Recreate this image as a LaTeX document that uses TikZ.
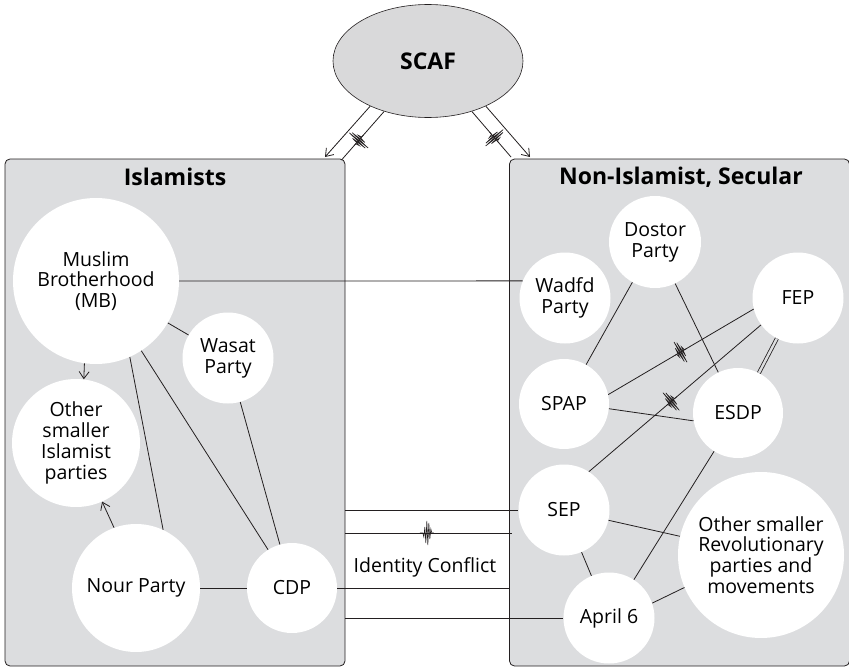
\documentclass[tikz,border=0pt]{standalone}
\usepackage{fontspec}
\setmainfont{Open Sans}
\usetikzlibrary{decorations.markings,arrows.meta,shapes.geometric}
\definecolor{boxgray}{HTML}{DCDDDF}
\definecolor{scafgray}{HTML}{D9D9DA}
\definecolor{ink}{HTML}{231F20}
\tikzset{
  party/.style={circle, fill=white, inner sep=0pt, align=center,
    font=\fontsize{19.5}{20.8}\selectfont},
  group/.style={draw=ink, fill=boxgray, rounded corners=5pt, line width=0.8pt,
    inner sep=0pt, minimum width=340pt, minimum height=507pt},
  grouptitle/.style={font=\fontsize{23}{26}\selectfont\bfseries},
  link/.style={draw=ink, line width=0.8pt},
  arr/.style={link, -{Straight Barb[length=7pt,width=10pt,line width=0.8pt]}},
  conflict/.style={link, postaction={decorate}, decoration={markings,
    mark=at position #1 with {\draw[ink, line width=0.6pt, line join=miter]
      (-7pt,0) -- (-4pt,0) -- (-3pt,-4pt) -- (-2pt,6pt) -- (-1pt,-10pt) -- (0pt,12pt)
      -- (1pt,-12pt) -- (2pt,10pt) -- (3pt,-6pt) -- (4pt,4pt) -- (5pt,0) -- (7pt,0);}}},
  conflict/.default=0.5,
}
\begin{document}
\begin{tikzpicture}[x=1pt,y=-1pt]
\useasboundingbox (0,0) rectangle (849,669);

% group boxes
\node[group] (lbox) at (175,412.5) {};
\node[group] (rbox) at (679.5,412.5) {};
\node[grouptitle] (ltitle) at (175,177) {Islamists};
\node[grouptitle] (rtitle) at (681,177) {Non-Islamist, Secular};

% SCAF
\node[ellipse, draw=ink, fill=scafgray, line width=0.6pt, minimum width=190pt,
  minimum height=113pt, font=\fontsize{23}{26}\selectfont\bfseries] (scaf) at (428,61) {SCAF};
\coordinate (lout) at (325,157);
\coordinate (lin) at (341.5,160);
\coordinate (rin) at (511,157);
\coordinate (rout) at (530,157);
\draw[arr] (scaf.218) -- (lout);
\draw[conflict=0.59] (scaf.229.4) -- (lin);
\draw[conflict=0.57] (scaf.311.2) -- (rin);
\draw[arr] (scaf.322.6) -- (rout);

% Islamist parties
\node[party, minimum size=166pt] (mb) at (96,281) {Muslim\\Brotherhood\\(MB)};
\node[party, minimum size=91pt] (wasat) at (228,358) {Wasat\\Party};
\node[party, minimum size=128pt] (otheri) at (76,443) {Other\\smaller\\Islamist\\parties};
\node[party, minimum size=128pt] (nour) at (136,588) {Nour Party};
\node[party, minimum size=90pt] (cdp) at (292,588) {CDP};

% Secular parties
\node[party, minimum size=92pt] (dostor) at (655,242) {Dostor\\Party};
\node[party, minimum size=91pt] (wadfd) at (565,298) {Wadfd\\Party};
\node[party, minimum size=91pt] (fep) at (798,298) {FEP};
\node[party, minimum size=90pt] (spap) at (564,404) {SPAP};
\node[party, minimum size=90pt] (esdp) at (738,413) {ESDP};
\node[party, minimum size=91pt] (sep) at (564,510) {SEP};
\node[party, minimum size=166pt] (rev) at (761,555) {Other smaller\\Revolutionary\\parties and\\movements};
\node[party, minimum size=91pt] (april) at (609,618) {April 6};

% Islamist links
\draw[link] (mb) -- (wasat);
\draw[arr] (mb.-98) -- (otheri.83);
\draw[link] (mb.-66) -- (nour.65);
\draw[link] (mb.-57) -- (cdp.122);
\draw[link] (wasat) -- (cdp);
\draw[arr] (nour.110) -- (otheri.-66);
\draw[link] (nour) -- (cdp);

% cross links
\draw[link] (mb.east) -- (wadfd.158);
\coordinate (c1) at (lbox.east |- sep.west);
\draw[link] (c1) -- (sep.west);
\coordinate (c2a) at (345,533);
\coordinate (c2b) at (512,533);
\draw[conflict=0.49] (c2a) -- (c2b);
\node[font=\fontsize{19.5}{22}\selectfont] (idc) at (425,567) {Identity Conflict};
\coordinate (c3) at (rbox.west |- cdp.east);
\draw[link] (cdp.east) -- (c3);
\coordinate (c4) at (lbox.east |- april.west);
\draw[link] (c4) -- (april.west);

% Secular links
\draw[link] (dostor) -- (spap);
\draw[link] (dostor) -- (esdp);
\draw[conflict=0.5] (fep.194) -- (spap.12);
\draw[conflict=0.52] (fep.216) -- (sep.57);
\draw[draw=ink, double=boxgray, double distance=2.4pt, line width=0.8pt] (fep) -- (esdp);
\draw[link] (spap.-6) -- (esdp.190);
\draw[link] (esdp.-122) -- (april.57);
\draw[link] (sep.-13) -- (rev.167);
\draw[link] (sep) -- (april);
\draw[link] (april.19) -- (rev.203);
\end{tikzpicture}
\end{document}
